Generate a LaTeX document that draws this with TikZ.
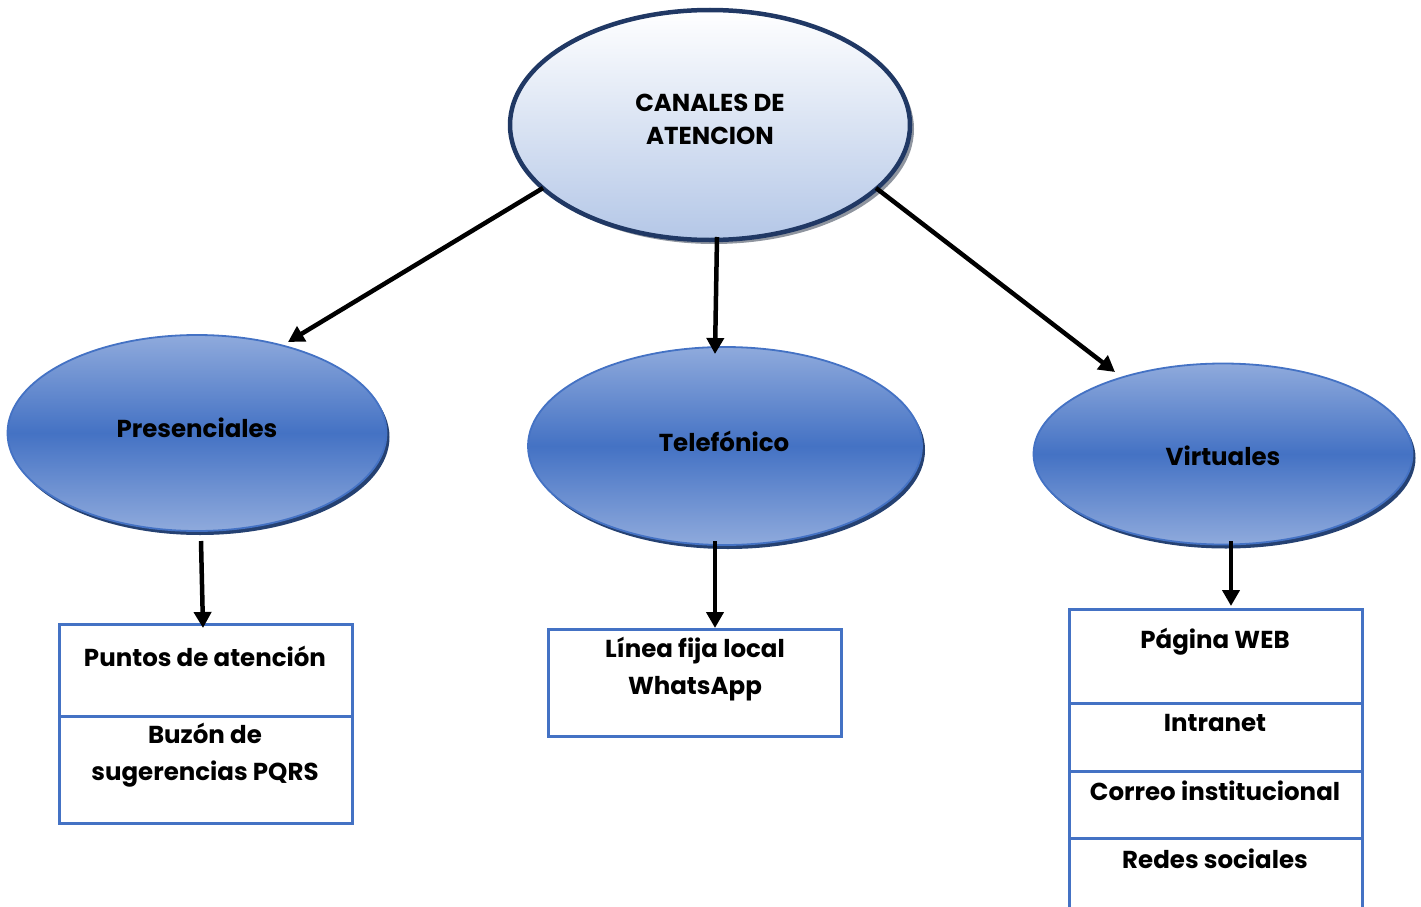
\documentclass[tikz,border=0pt]{standalone}
\usepackage{fontspec}
\setmainfont{Poppins}
\usetikzlibrary{shapes.geometric,arrows.meta}
\definecolor{bluemain}{HTML}{4472C4}
\definecolor{bluelight}{HTML}{8FAADC}
\definecolor{navy}{HTML}{203864}
\definecolor{paleblue}{HTML}{B4C7E7}
\tikzset{
  every node/.style={font=\fontsize{24.5}{37}\selectfont\bfseries, text=black},
  topell/.style={ellipse, inner sep=0pt, draw=navy, line width=4.5pt,
    top color=white, bottom color=paleblue, align=center},
  topshadow/.style={ellipse, inner sep=0pt, fill=gray!70!paleblue},
  blueell/.style={ellipse, inner sep=0pt, draw=bluemain, line width=1.8pt,
    shading=axis, top color=bluelight, bottom color=bluelight, middle color=bluemain},
  blueshadow/.style={ellipse, inner sep=0pt, fill=navy!85!bluemain},
  cell/.style={rectangle, draw=bluemain, line width=3pt, inner sep=0pt, fill=white},
  txt/.style={align=center, inner sep=0pt},
  arr/.style={line width=4.5pt, -{Triangle[length=16pt,width=17pt]}, shorten >=0pt}
}
\begin{document}
\begin{tikzpicture}[x=1pt,y=-1pt]
\useasboundingbox (0,0) rectangle (1421,907);
% shadows
\node[topshadow, minimum width=400pt, minimum height=230pt] (rootsh) at (714,129) {};
\node[blueshadow, minimum width=379pt, minimum height=196pt] (pressh) at (200,437) {};
\node[blueshadow, minimum width=394pt, minimum height=198pt] (telsh) at (728,450) {};
\node[blueshadow, minimum width=379pt, minimum height=181pt] (virsh) at (1226,458) {};
% ellipses
\node[topell, minimum width=400pt, minimum height=230pt] (root) at (710,125) {};
\node[txt] (roottxt) at (710,119) {CANALES DE\\[-4pt]ATENCION};
\node[blueell, minimum width=379pt, minimum height=196pt] (pres) at (197,433) {};
\node[txt] (prestxt) at (197,428) {Presenciales};
\node[blueell, minimum width=394pt, minimum height=198pt] (tel) at (725,446) {};
\node[txt] (teltxt) at (724,441) {Telefónico};
\node[blueell, minimum width=379pt, minimum height=181pt] (vir) at (1223,454) {};
\node[txt] (virtxt) at (1223,456) {Virtuales};
% left boxes
\node[cell, minimum width=293pt, minimum height=92pt] (b1) at (205.5,670) {};
\node[cell, minimum width=293pt, minimum height=107pt] (b2) at (205.5,769.5) {};
\node[txt] (t1) at (205,656) {Puntos de atención};
\node[txt] (t2) at (205,755) {Buzón de\\sugerencias PQRS};
% middle box
\node[cell, minimum width=293pt, minimum height=107pt] (b3) at (694.5,682.5) {};
\node[txt] (t3) at (695,669) {Línea fija local\\WhatsApp};
% right boxes
\node[cell, minimum width=293pt, minimum height=94pt] (r1) at (1215.5,656) {};
\node[cell, minimum width=293pt, minimum height=68pt] (r2) at (1215.5,737) {};
\node[cell, minimum width=293pt, minimum height=67pt] (r3) at (1215.5,804.5) {};
\node[cell, minimum width=293pt, minimum height=74pt] (r4) at (1215.5,875) {};
\node[txt] (rt1) at (1215,642) {Página WEB};
\node[txt] (rt2) at (1215,723) {Intranet};
\node[txt] (rt3) at (1215,791) {Correo institucional};
\node[txt] (rt4) at (1215,859) {Redes sociales};
% arrow end points
\coordinate (a1s) at (543,188); \coordinate (a1e) at (288,342);
\coordinate (a2s) at (717,237); \coordinate (a2e) at (715,354);
\coordinate (a3s) at (876,188); \coordinate (a3e) at (1115,372);
\coordinate (a4s) at (201,541); \coordinate (a4e) at (203,628);
\coordinate (a5s) at (715,541); \coordinate (a5e) at (715,628);
\coordinate (a6s) at (1231,541); \coordinate (a6e) at (1231,606);
\draw[arr] (a1s) -- (a1e);
\draw[arr] (a2s) -- (a2e);
\draw[arr] (a3s) -- (a3e);
\draw[arr] (a4s) -- (a4e);
\draw[arr] (a5s) -- (a5e);
\draw[arr] (a6s) -- (a6e);
\end{tikzpicture}
\end{document}
